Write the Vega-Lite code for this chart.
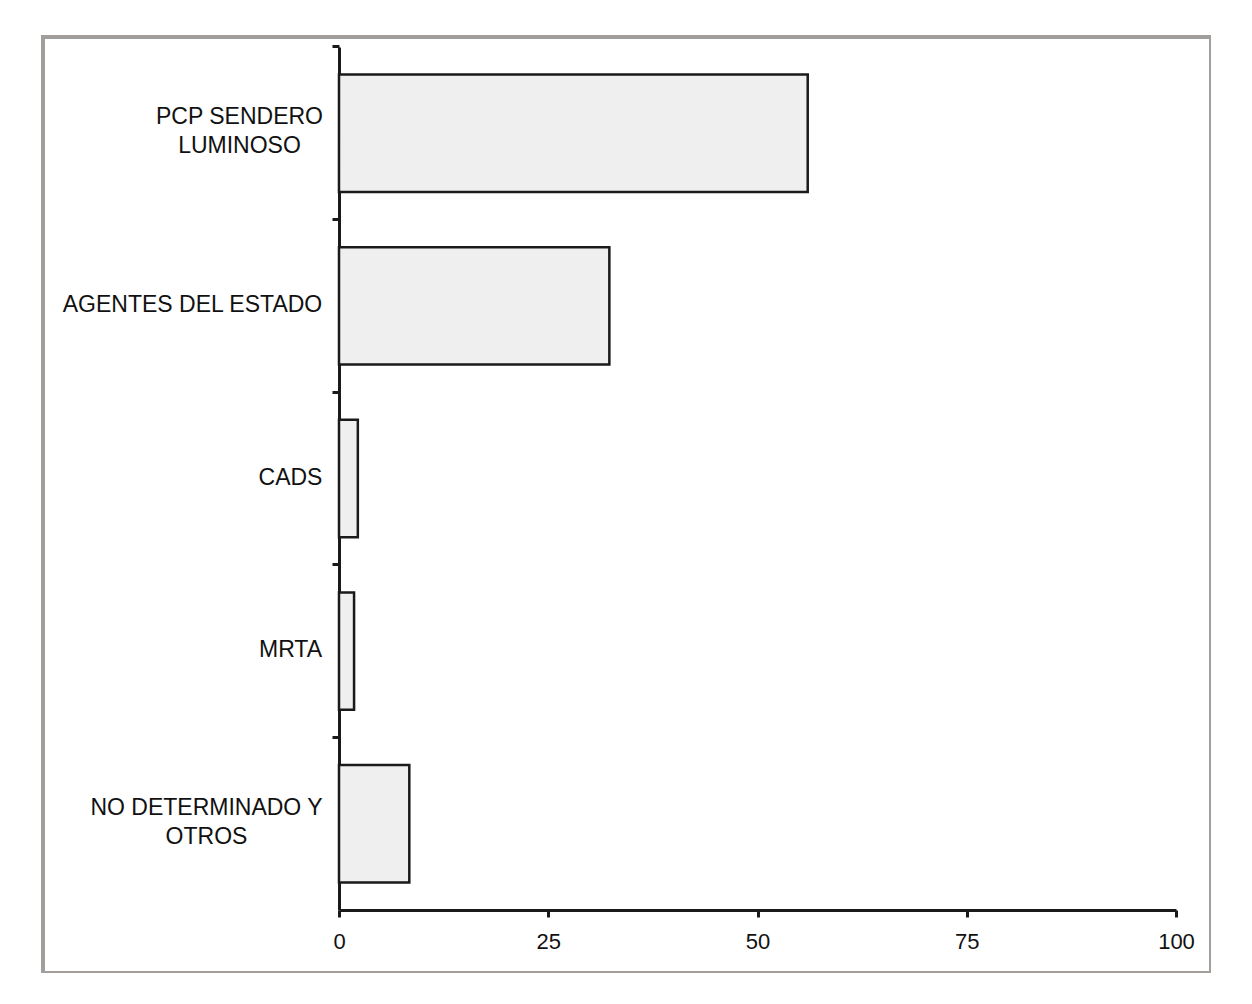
{
  "$schema": "https://vega.github.io/schema/vega-lite/v6.json",
  "width": 1168,
  "height": 936,
  "autosize": {"type": "none"},
  "padding": {"left": 43, "top": 37, "right": 0, "bottom": 0},
  "background": "white",
  "data": {
    "values": [
      {"actor": "PCP SENDERO LUMINOSO", "pct": 56.0},
      {"actor": "AGENTES DEL ESTADO", "pct": 32.3},
      {"actor": "CADS", "pct": 2.25},
      {"actor": "MRTA", "pct": 1.8},
      {"actor": "NO DETERMINADO Y OTROS", "pct": 8.4}
    ]
  },
  "mark": {
    "type": "bar",
    "fill": "#efefef",
    "stroke": "#1a1a1a",
    "strokeWidth": 2.5
  },
  "encoding": {
    "y": {
      "field": "actor",
      "type": "nominal",
      "sort": null,
      "title": null,
      "scale": {"range": [10, 873], "paddingInner": 0.32, "paddingOuter": 0.16},
      "axis": {
        "offset": -296,
        "bandPosition": -0.236,
        "tickSize": 7,
        "tickWidth": 3,
        "tickColor": "#1a1a1a",
        "domainWidth": 3,
        "domainColor": "#1a1a1a",
        "labelAlign": "center",
        "labelBaseline": "middle",
        "labelFont": "Liberation Sans",
        "labelFontSize": 23,
        "labelColor": "#111111",
        "labelLineHeight": 29,
        "labelLimit": 400,
        "labelOffset": {
          "condition": {"test": "datum.value == 'PCP SENDERO LUMINOSO' || datum.value == 'NO DETERMINADO Y OTROS'", "value": -16},
          "value": -1
        },
        "labelPadding": {
          "condition": [
            {"test": "datum.value == 'PCP SENDERO LUMINOSO'", "value": 93},
            {"test": "datum.value == 'AGENTES DEL ESTADO'", "value": 140},
            {"test": "datum.value == 'NO DETERMINADO Y OTROS'", "value": 126}
          ],
          "value": 42
        },
        "labelExpr": "datum.value == 'PCP SENDERO LUMINOSO' ? ['PCP SENDERO', 'LUMINOSO'] : datum.value == 'NO DETERMINADO Y OTROS' ? ['NO DETERMINADO Y', 'OTROS'] : datum.value"
      }
    },
    "x": {
      "field": "pct",
      "type": "quantitative",
      "title": null,
      "scale": {"domain": [0, 100], "range": [296, 1133], "nice": false},
      "axis": {
        "offset": -63,
        "values": [0, 25, 50, 75, 100],
        "grid": false,
        "tickSize": 7,
        "tickWidth": 3,
        "tickColor": "#1a1a1a",
        "domainWidth": 3,
        "domainColor": "#1a1a1a",
        "labelFont": "Liberation Sans",
        "labelFontSize": 22,
        "labelColor": "#111111",
        "labelPadding": 14,
        "labelFlush": false
      }
    }
  },
  "config": {
    "view": {"stroke": "#a29e9b", "strokeWidth": 4, "fill": "white"}
  }
}
